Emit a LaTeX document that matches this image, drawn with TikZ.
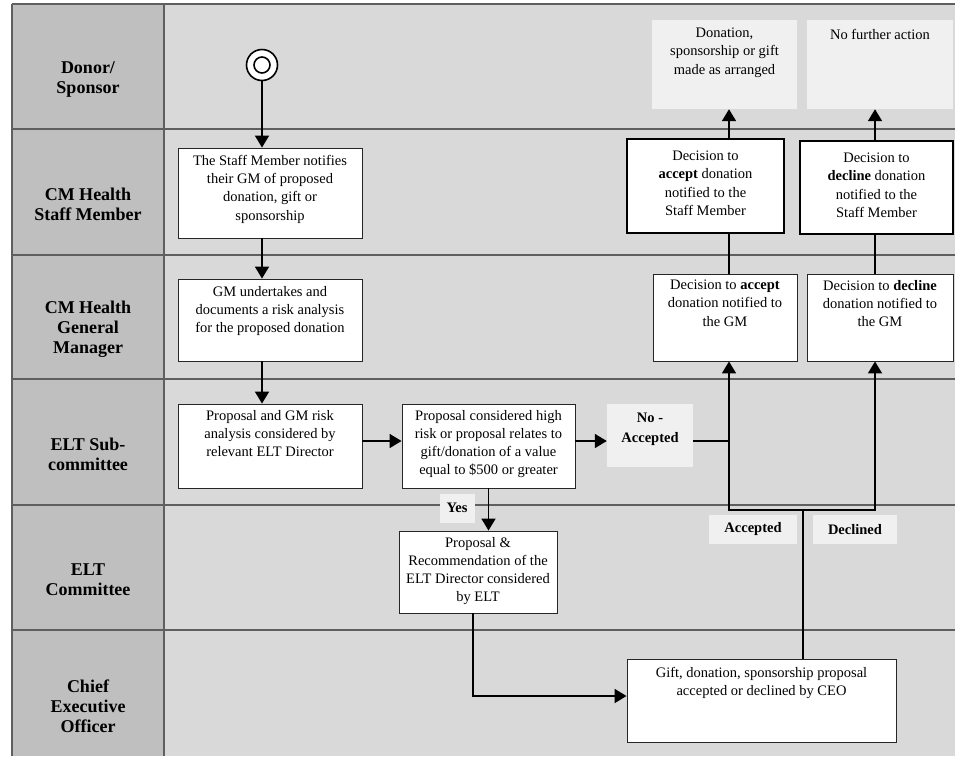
\documentclass[tikz,border=0pt]{standalone}
\usepackage{fontspec}
\setmainfont{Liberation Serif}
\usetikzlibrary{arrows.meta,positioning}
\definecolor{lanegray}{HTML}{D9D9D9}
\definecolor{headgray}{HTML}{BFBFBF}
\definecolor{notegray}{HTML}{F0F0F0}
\definecolor{gridgray}{HTML}{5F5F5F}
\newcommand{\boxtext}[4][7pt]{\parbox[c][#3][t]{#2}{\centering\vspace*{#1}#4\par}}

\begin{document}
\begin{tikzpicture}[x=1pt,y=-1pt]
  \tikzset{task/.style = {draw=black!85, fill=white, line width=0.9pt, inner sep=0pt, font=\fontsize{14.5}{18.3}\selectfont}}
  \tikzset{thicktask/.style = {task, draw=black, line width=2.4pt}}
  \tikzset{outcome/.style = {fill=notegray, inner sep=0pt, font=\fontsize{14.5}{18.3}\selectfont}}
  \tikzset{tag/.style = {fill=notegray, inner sep=0pt, minimum height=29pt, font=\bfseries\fontsize{14.5}{18}\selectfont}}
  \tikzset{lane/.style = {align=center, font=\bfseries\fontsize{18}{20}\selectfont}}
  \tikzset{link/.style = {line width=1.8pt}}
  \tikzset{edge/.style = {-tipA, link}}
  \tikzset{%
  tipA/.tip={Triangle[width=14pt,length=12pt]},
}

  % swim lanes
  \useasboundingbox (0,0) rectangle (955,756);
  \fill[headgray] (12,4) rectangle (164,756);
  \fill[lanegray] (164,4) rectangle (955,756);
  \foreach \y in {4,129,255,379,505,630}
    \draw[gridgray, line width=1.2pt] (12,\y) -- (955,\y);
  \draw[gridgray, line width=1.2pt] (12,4) -- (12,756) (164,4) -- (164,756);

  \foreach \n/\y/\txt in {1/79/{Donor/\\Sponsor}, 2/204/{CM Health\\Staff Member},
      3/329/{CM Health\\General\\Manager}, 4/454/{ELT Sub-\\committee},
      5/580/{ELT\\Committee}, 6/706/{Chief\\Executive\\Officer}}
    \node[lane] (lane\n) at (88,\y) {\txt};

  % start
  \node[circle, draw, fill=white, line width=1.6pt, minimum size=31pt, inner sep=0pt] (ST) at (262,65) {};
  \node[circle, draw, line width=1.6pt, minimum size=16pt, inner sep=0pt] (STi) at (ST) {};

  % left column
  \node[task] (SN) at (270,193) {\boxtext{184pt}{90pt}{The Staff Member notifies\\their GM of proposed\\donation, gift or\\sponsorship}};
  \node[task] (GR) at (270,320) {\boxtext{184pt}{82pt}{GM undertakes and\\documents a risk analysis\\for the proposed donation}};
  \node[task] (ED) at (270,446) {\boxtext[6pt]{184pt}{84pt}{Proposal and GM risk\\analysis considered by\\relevant ELT Director}};
  \node[task] (HR) at (488.5,446) {\boxtext[6pt]{173pt}{84pt}{Proposal considered high\\risk or proposal relates to\\gift/donation of a value\\equal to \$500 or greater}};
  \node[outcome, font=\bfseries\fontsize{14.5}{20}\selectfont] (NA) at (650,435.5) {\boxtext[9pt]{86pt}{63pt}{No -\\Accepted}};
  \node[task] (EC) at (478,572) {\boxtext[6pt]{158pt}{82pt}{Proposal \&\\Recommendation of the\\ELT Director considered\\by ELT}};
  \node[task] (CE) at (761.5,700.5) {\boxtext[8pt]{269pt}{83pt}{Gift, donation, sponsorship proposal\\accepted or declined by CEO}};

  % decisions
  \node[task] (GA) at (725,317.5) {\boxtext[6pt]{144pt}{87pt}{Decision to \textbf{accept}\\donation notified to\\the GM}};
  \node[task] (GD) at (880,317.5) {\boxtext[6pt]{146pt}{87pt}{Decision to \textbf{decline}\\donation notified to\\the GM}};
  \node[thicktask] (SA) at (705.5,186) {\boxtext[12pt]{157pt}{94pt}{Decision to\\\textbf{accept} donation\\notified to the\\Staff Member}};
  \node[thicktask] (SD) at (876.5,187.5) {\boxtext[12pt]{153pt}{93pt}{Decision to\\\textbf{decline} donation\\notified to the\\Staff Member}};
  \node[outcome] (DA) at (724.5,64.5) {\boxtext[8pt]{145pt}{89pt}{Donation,\\sponsorship or gift\\made as arranged}};
  \node[outcome] (NF) at (880,64.5) {\boxtext[9pt]{146pt}{89pt}{No further action}};

  % labels
  \node[tag, minimum width=35pt] (YS) at (457,508) {Yes};
  \node[tag, minimum width=88pt] (AL) at (753,529.5) {Accepted};
  \node[tag, minimum width=84pt] (DL) at (855,529.5) {Declined};

  \coordinate (colA) at (729,441);
  \coordinate (forkA) at (729,510);
  \coordinate (forkD) at (875,510);
  \coordinate (forkC) at (803,510);

  \draw[edge] (ST) -- (ST |- SN.north);
  \draw[edge] (SN.south -| ST) -- (ST |- GR.north);
  \draw[edge] (GR.south -| ST) -- (ST |- ED.north);
  \draw[edge] ([yshift=5pt]ED.east) -- ([yshift=5pt]HR.west);
  \draw[edge] ([yshift=5pt]HR.east) -- ([yshift=-5.5pt]NA.west);
  \draw[link] ([yshift=-5.5pt]NA.east) -- (colA);
  \draw[edge] (HR.south) -- (HR.south |- EC.north);
  \draw[edge] ([xshift=-5pt]EC.south) |- ([yshift=4.5pt]CE.west);
  \draw[tipA-tipA, link] (GA.south -| forkA) -- (forkA) -- (forkD) -- (GD.south -| forkD);
  \draw[link] (CE.north -| forkC) -- (forkC);
  \draw[link] (GA.north -| forkA) -- (SA.south -| forkA);
  \draw[edge] (SA.north -| forkA) -- (DA.south -| forkA);
  \draw[link] (GD.north -| forkD) -- (SD.south -| forkD);
  \draw[edge] (SD.north -| forkD) -- (NF.south -| forkD);

\end{tikzpicture}
\end{document}
